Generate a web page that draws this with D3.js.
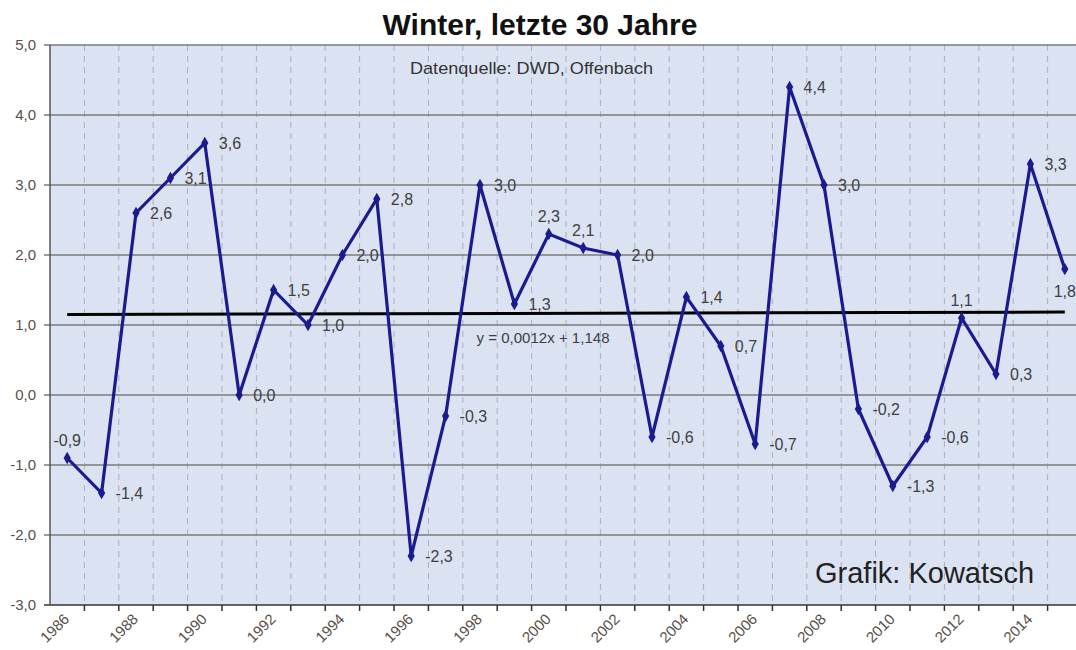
<!DOCTYPE html>
<html>
<head>
<meta charset="utf-8">
<script src="https://cdn.jsdelivr.net/npm/d3@7"></script>
<style>
  body { margin: 0; background: #fff; }
  svg { display: block; font-family: Arial, "Liberation Sans", sans-serif; }
</style>
</head>
<body>
<svg id="chart" width="1076" height="650"></svg>
<script>
// Data
const years = d3.range(1986, 2016);
const values = [-0.9, -1.4, 2.6, 3.1, 3.6, 0.0, 1.5, 1.0, 2.0, 2.8,
                -2.3, -0.3, 3.0, 1.3, 2.3, 2.1, 2.0, -0.6, 1.4, 0.7,
                -0.7, 4.4, 3.0, -0.2, -1.3, -0.6, 1.1, 0.3, 3.3, 1.8];
const yTicks = [-3, -2, -1, 0, 1, 2, 3, 4, 5];
const trend = { slope: 0.0012, intercept: 1.148 };
const labelAbove = [1986, 2000, 2001, 2012];
const labelBelow = [2015];

const svg = d3.select('#chart');
const plotLeft = 50, plotTop = 45, plotBottom = 605;
const band = 34.4;

let x = d3.scaleBand()
    .domain(years)
    .range([plotLeft, plotLeft + band * years.length]);

let y = d3.scaleLinear()
    .domain([-3, 5])
    .range([plotBottom, plotTop]);

const fmt = v => d3.format('.1f')(v).replace('.', ',').replace('−', '-');

// Plot background
svg.append('rect')
    .attr('x', plotLeft)
    .attr('y', plotTop)
    .attr('width', 1076 - plotLeft)
    .attr('height', plotBottom - plotTop)
    .attr('fill', '#dbe3f3');

// Vertical dashed gridlines
svg.append('g')
    .selectAll('line')
    .data(years.slice(1))
    .enter()
    .append('line')
    .attr('x1', d => x(d))
    .attr('x2', d => x(d))
    .attr('y1', plotTop)
    .attr('y2', plotBottom)
    .attr('stroke', '#a8afbd')
    .attr('stroke-width', 1)
    .attr('stroke-dasharray', '6,5');

// Horizontal gridlines
svg.append('g')
    .selectAll('line')
    .data(yTicks)
    .enter()
    .append('line')
    .attr('x1', plotLeft - 6)
    .attr('x2', 1076)
    .attr('y1', d => y(d))
    .attr('y2', d => y(d))
    .attr('stroke', d => d === -3 ? '#333' : '#7b7b7b')
    .attr('stroke-width', 1.5);

// Y axis line
svg.append('line')
    .attr('x1', plotLeft).attr('x2', plotLeft)
    .attr('y1', plotTop).attr('y2', plotBottom)
    .attr('stroke', '#555')
    .attr('stroke-width', 1.5);

// Y tick labels
svg.append('g')
    .selectAll('text')
    .data(yTicks)
    .enter()
    .append('text')
    .attr('x', 36)
    .attr('y', d => y(d) + 5)
    .attr('text-anchor', 'end')
    .attr('font-size', 15)
    .attr('fill', '#5a5048')
    .text(fmt);

// X tick marks
svg.append('g')
    .selectAll('line')
    .data(years.slice(1))
    .enter()
    .append('line')
    .attr('x1', d => x(d))
    .attr('x2', d => x(d))
    .attr('y1', plotBottom)
    .attr('y2', plotBottom + 6)
    .attr('stroke', '#333')
    .attr('stroke-width', 1.5);

// X tick labels, every other year
svg.append('g')
    .selectAll('text')
    .data(years.filter(d => d % 2 === 0))
    .enter()
    .append('text')
    .attr('transform', d => `translate(${x(d) + x.bandwidth() / 2 + 3},${plotBottom + 15}) rotate(-45)`)
    .attr('text-anchor', 'end')
    .attr('font-size', 15)
    .attr('fill', '#5a5048')
    .text(d => d);

// Trend line
const cx = d => x(d) + x.bandwidth() / 2;
const trendVal = i => trend.slope * (i + 1) + trend.intercept;
svg.append('line')
    .attr('x1', cx(years[0]))
    .attr('x2', cx(years[years.length - 1]))
    .attr('y1', y(trendVal(0)))
    .attr('y2', y(trendVal(years.length - 1)))
    .attr('stroke', '#000')
    .attr('stroke-width', 3);

// Data line
let pts = years.map((d, i) => ({ year: d, value: values[i] }));

let line = d3.line()
    .x(d => cx(d.year))
    .y(d => y(d.value));

svg.append('path')
    .datum(pts)
    .attr('d', line)
    .attr('fill', 'none')
    .attr('stroke', '#1b1b8f')
    .attr('stroke-width', 3.2)
    .attr('stroke-linejoin', 'miter');

// Markers
svg.append('g')
    .selectAll('path')
    .data(pts)
    .enter()
    .append('path')
    .attr('transform', d => `translate(${cx(d.year)},${y(d.value)})`)
    .attr('d', d3.symbol().type(d3.symbolDiamond).size(45))
    .attr('fill', '#1b1b8f');

// Data labels
svg.append('g')
    .selectAll('text')
    .data(pts)
    .enter()
    .append('text')
    .attr('x', d => {
        if (labelAbove.includes(d.year) || labelBelow.includes(d.year)) return cx(d.year);
        return cx(d.year) + 14;
    })
    .attr('y', d => {
        if (labelAbove.includes(d.year)) return y(d.value) - 12;
        if (labelBelow.includes(d.year)) return y(d.value) + 28;
        return y(d.value) + 6;
    })
    .attr('text-anchor', d => (labelAbove.includes(d.year) || labelBelow.includes(d.year)) ? 'middle' : 'start')
    .attr('font-size', 16)
    .attr('fill', '#404040')
    .text(d => fmt(d.value));

// Trend equation
svg.append('text')
    .attr('x', 543)
    .attr('y', 343)
    .attr('text-anchor', 'middle')
    .attr('font-size', 14)
    .attr('textLength', 133)
    .attr('lengthAdjust', 'spacingAndGlyphs')
    .attr('fill', '#404040')
    .text('y = 0,0012x + 1,148');

// Title
svg.append('text')
    .attr('x', 540)
    .attr('y', 35)
    .attr('text-anchor', 'middle')
    .attr('font-size', 30)
    .attr('font-weight', 'bold')
    .attr('fill', '#111')
    .text('Winter, letzte 30 Jahre');

// Source
svg.append('text')
    .attr('x', 410)
    .attr('y', 74)
    .attr('font-size', 17)
    .attr('textLength', 243)
    .attr('lengthAdjust', 'spacingAndGlyphs')
    .attr('fill', '#333')
    .text('Datenquelle: DWD, Offenbach');

// Credit
svg.append('text')
    .attr('x', 815)
    .attr('y', 583)
    .attr('font-size', 29)
    .attr('fill', '#222')
    .text('Grafik: Kowatsch');
</script>
</body>
</html>
